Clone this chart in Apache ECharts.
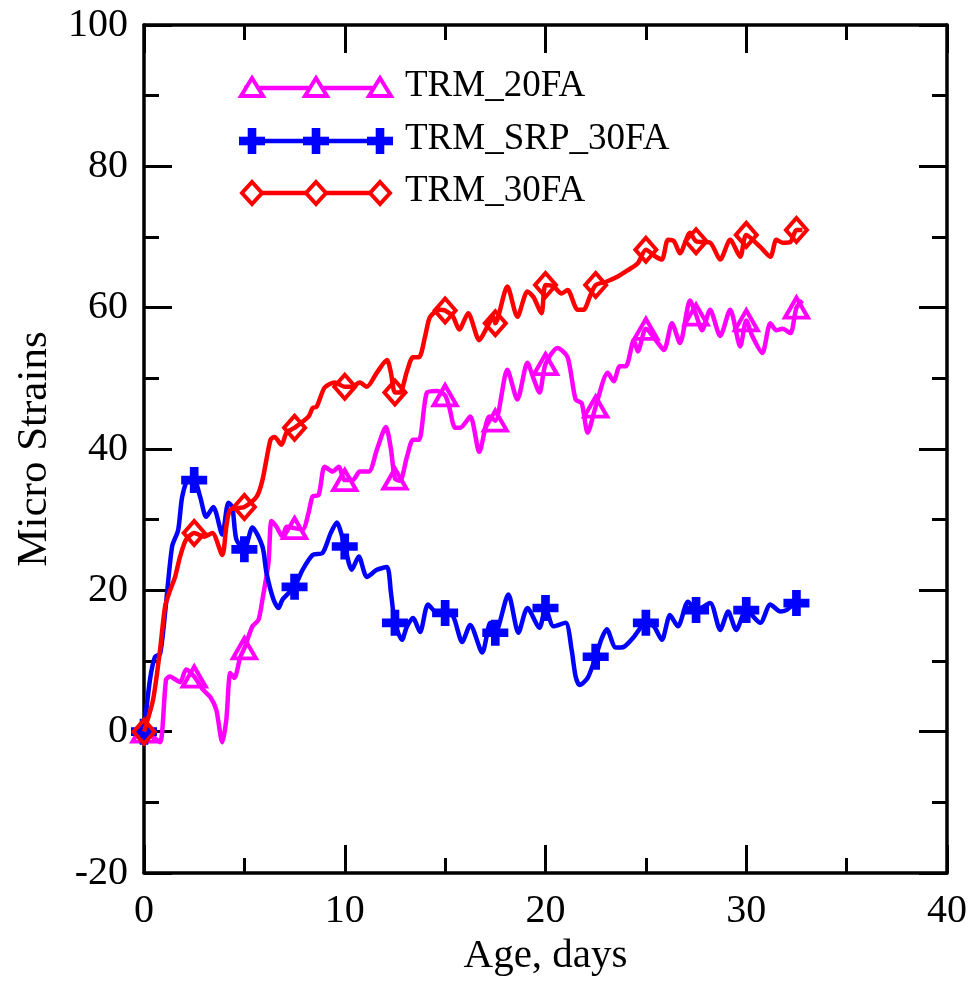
<!DOCTYPE html>
<html>
<head>
<meta charset="utf-8">
<script src="https://cdn.jsdelivr.net/npm/echarts@6/dist/echarts.min.js"></script>
<style>
html,body{margin:0;padding:0;background:#fff;}
#chart{width:976px;height:990px;}
</style>
</head>
<body>
<div id="chart"></div>
<script>
// ---- data ----
const seriesNames = ['TRM_20FA', 'TRM_SRP_30FA', 'TRM_30FA'];
const markerDays = [0, 2.5, 5, 7.5, 10, 12.5, 15, 17.5, 20, 22.5, 25, 27.5, 30, 32.5];
const xTicks = [0, 10, 20, 30, 40];
const yTicks = [-20, 0, 20, 40, 60, 80, 100];

const trm20FA = [
  [0,0],[0.2,0.3],[0.45,-0.7],[0.8,-1.5],[1.1,7.4],[1.3,7.8],[1.5,7.5],[1.8,7],[2.1,8.8],[2.5,7.8],
  [2.95,5.9],[3.3,4.9],[3.6,3.1],[3.9,-1.5],[4.1,1.7],[4.3,8.3],[4.5,7.6],[4.8,10.6],[5,11.8],[5.4,14.9],
  [5.7,15.8],[5.9,18.7],[6.2,23.9],[6.35,29.8],[6.6,29],[6.9,27.6],[7.1,29],[7.5,28.8],[7.9,28.6],[8.2,31],
  [8.4,33.3],[8.7,33.5],[9,37.5],[9.4,36.8],[9.7,37.5],[10,35.6],[10.4,35.6],[10.75,36.8],[11.2,36.8],[11.6,39.9],
  [12.05,43.1],[12.3,40],[12.5,35.8],[12.75,35.5],[13.1,38.9],[13.4,41.3],[13.7,41.3],[14.1,48],[14.6,48.2],[15,47.6],
  [15.2,46],[15.5,43],[15.75,43],[16.25,44.6],[16.7,39.6],[17.2,44.6],[17.5,44],[18.1,51.2],[18.6,47],[19.1,52.2],
  [19.4,50],[19.7,48],[20,52],[20.6,54.3],[21.1,53],[21.5,47],[21.8,46.5],[22.1,42.3],[22.5,46],[23.1,50.8],
  [23.4,49.6],[23.7,51.7],[24,51.7],[24.4,55.4],[24.6,53.8],[25,57],[25.5,55.4],[25.9,54],[26.3,57.8],[26.7,55],
  [27.2,61],[27.5,59],[27.8,56.8],[28.2,59.7],[28.7,56],[29.2,59.7],[29.7,54.5],[30,58.2],[30.3,56],[30.8,53.6],
  [31.2,57.8],[31.5,56.8],[31.8,57],[32.2,56.4],[32.5,60],[32.8,61]
];
const trmSRP30FA = [
  [0,0],[0.3,7.4],[0.55,10.6],[0.8,11],[1.05,16.8],[1.4,26.2],[1.7,28.5],[1.9,33.2],[2.2,35.6],[2.5,35.6],
  [2.8,33.2],[3.1,30.4],[3.45,31.8],[3.9,27.9],[4.2,32.4],[4.4,31.8],[4.6,27.2],[5,25.8],[5.4,28.9],[5.9,26.2],
  [6.1,22.5],[6.45,18.7],[6.7,17.5],[6.9,18.7],[7.5,20.5],[7.9,22.9],[8.4,25],[8.9,25.3],[9.3,28.1],[9.6,29.6],
  [10,26.2],[10.35,22.9],[10.7,24.8],[11.1,21.9],[11.6,22.9],[12.1,23.3],[12.3,19.7],[12.5,15.4],[12.85,13],[13.1,14.9],
  [13.4,16.1],[13.75,14.1],[14.15,18],[14.6,16.8],[15,16.8],[15.4,16.3],[15.85,12.7],[16.25,15.1],[16.85,11.2],[17.25,15.4],
  [17.5,14],[18.15,19.4],[18.65,14],[19.1,17.5],[19.7,14.7],[20,17.5],[20.4,14.9],[21,15.4],[21.3,11.6],[21.5,7.8],
  [21.7,6.6],[22.1,7.6],[22.5,10.6],[22.8,13.2],[23.05,14.5],[23.5,11.9],[23.9,12],[24.4,13.4],[25,15.4],[25.4,14.9],
  [25.8,13],[26.2,16.5],[26.6,14.9],[27.1,18.4],[27.5,17.2],[28.2,18.2],[28.7,14.4],[29.1,17],[29.5,14.4],[30,17.2],
  [30.7,15.4],[31.2,18],[31.7,17],[32,17.2],[32.5,18.2],[33,18.2]
];
const trm30FA = [
  [0,0],[0.45,4.5],[0.8,11.6],[1.05,17.7],[1.3,20],[1.55,21.9],[1.8,24.8],[2.1,27.2],[2.5,28.1],[3,27.6],
  [3.4,28.1],[3.9,25],[4.1,29],[4.3,31.4],[5,31.8],[5.6,33.2],[5.9,35.6],[6.3,41.3],[6.5,41.7],[6.85,40.6],
  [7.1,42.3],[7.5,43],[8.2,44.6],[8.4,45.8],[8.6,46],[9,48.7],[9.5,49.4],[10,48.8],[10.35,48.8],[10.75,49.4],
  [11.1,48.8],[11.6,50.8],[12.1,52.6],[12.3,50.8],[12.5,48],[12.75,48],[13.1,51],[13.4,53],[13.7,53],[14,55.9],
  [14.25,58.7],[14.75,59.7],[15,59.6],[15.4,58.7],[15.7,56.9],[16.15,59.2],[16.7,55.4],[17.1,57.3],[17.4,58.7],[17.5,57.8],
  [18.1,63],[18.6,58.7],[19.1,62.3],[19.4,61.5],[19.8,59.2],[20,63.2],[20.4,63],[20.8,62],[21.1,62.5],[21.6,59.7],
  [21.9,59.7],[22.2,61.5],[22.5,63.2],[23.05,63.7],[23.6,64.4],[24.1,65.3],[24.6,66.3],[25,68.2],[25.5,67.2],[25.8,66.8],
  [26.1,69.6],[26.4,69.4],[26.7,67.7],[27.2,70.6],[27.5,69.4],[28.2,69.2],[28.7,66.8],[29.2,69.6],[29.7,67.2],[30,70.3],
  [30.7,68.6],[31.2,67.2],[31.5,69.6],[31.8,69.2],[32.2,69.3],[32.5,71],[32.8,71]
];

// ---- styling ----
const FONT = 'Liberation Serif';
const colors = ['#ff00ff', '#0000ff', '#ff0000'];
const PLUS = 'path://M-1,-3L1,-3L1,-1L3,-1L3,1L1,1L1,3L-1,3L-1,1L-3,1L-3,-1L-1,-1Z';
const symbols = ['triangle', PLUS, 'diamond'];
const symbolSizes = [[23, 20], 26, [21, 24]];
const hollow = [true, false, true];

const chart = echarts.init(document.getElementById('chart'), null, {renderer: 'canvas'});

function axisCommon(showLabel) {
  return {
    axisLine: {show: true, onZero: false, lineStyle: {color: '#000', width: 3.5}},
    axisTick: {show: true, inside: true, length: 28, lineStyle: {color: '#000', width: 3}},
    minorTick: {show: true, splitNumber: 2, length: 15, lineStyle: {color: '#000', width: 3}},
    splitLine: {show: false},
    axisLabel: {show: showLabel, color: '#000', fontFamily: FONT, fontSize: 40}
  };
}

const grid = {left: 144, right: 29, top: 25, bottom: 117};

const xBase = {type: 'value', min: xTicks[0], max: xTicks[xTicks.length - 1], interval: xTicks[1] - xTicks[0]};
const yBase = {type: 'value', min: yTicks[0], max: yTicks[yTicks.length - 1], interval: yTicks[1] - yTicks[0]};

const datasets = [trm20FA, trmSRP30FA, trm30FA];

const series = datasets.map((d, i) => ({
  name: seriesNames[i],
  type: 'line',
  data: d,
  smooth: 0.25,
  showAllSymbol: true,
  symbol: symbols[i],
  symbolSize: function (v) { return markerDays.indexOf(v[0]) >= 0 ? symbolSizes[i] : 0; },
  lineStyle: {color: colors[i], width: 4.5},
  itemStyle: hollow[i]
    ? {color: 'rgba(255,255,255,0)', borderColor: colors[i], borderWidth: 4}
    : {color: colors[i], borderWidth: 0},
  emphasis: {disabled: true},
  z: 3 + i
}));

// ---- custom legend (three markers on each sample line) ----
const legendRows = [88, 141, 193];
const legendMarkX = [252, 316, 380];
const legendGraphics = [];
seriesNames.forEach((name, i) => {
  const y = legendRows[i];
  legendGraphics.push({type: 'line', shape: {x1: 244, y1: y, x2: 386, y2: y},
    style: {stroke: colors[i], lineWidth: 4.5}, z: 10});
  legendMarkX.forEach(x => {
    if (i === 0) {
      legendGraphics.push({type: 'polygon', shape: {points: [[x, y - 10], [x + 11, y + 8], [x - 11, y + 8]]},
        style: {fill: '#fff', stroke: colors[i], lineWidth: 4}, z: 11});
    } else if (i === 1) {
      legendGraphics.push({type: 'rect', shape: {x: x - 13, y: y - 4.3, width: 26, height: 8.6}, style: {fill: colors[i]}, z: 11});
      legendGraphics.push({type: 'rect', shape: {x: x - 4.3, y: y - 13, width: 8.6, height: 26}, style: {fill: colors[i]}, z: 11});
    } else {
      legendGraphics.push({type: 'polygon', shape: {points: [[x, y - 11], [x + 10, y], [x, y + 11], [x - 10, y]]},
        style: {fill: '#fff', stroke: colors[i], lineWidth: 4}, z: 11});
    }
  });
  legendGraphics.push({type: 'text', left: 405, top: y - 20,
    style: {text: name, fill: '#000', font: '37px "' + FONT + '"'}, z: 11});
});

chart.setOption({
  animation: false,
  backgroundColor: '#fff',
  grid: grid,
  xAxis: [
    Object.assign({}, xBase, axisCommon(true), {
      position: 'bottom', name: 'Age, days', nameLocation: 'middle', nameGap: 62,
      nameTextStyle: {color: '#000', fontFamily: FONT, fontSize: 41},
      axisLabel: {show: true, color: '#000', fontFamily: FONT, fontSize: 40, margin: 18}
    }),
    Object.assign({}, xBase, axisCommon(false), {position: 'top'})
  ],
  yAxis: [
    Object.assign({}, yBase, axisCommon(true), {
      position: 'left', name: 'Micro Strains', nameLocation: 'middle', nameGap: 88, nameRotate: 90,
      nameTextStyle: {color: '#000', fontFamily: FONT, fontSize: 43},
      axisLabel: {show: true, color: '#000', fontFamily: FONT, fontSize: 40, margin: 16}
    }),
    Object.assign({}, yBase, axisCommon(false), {position: 'right'})
  ],
  graphic: legendGraphics,
  series: series
});
</script>
</body>
</html>
